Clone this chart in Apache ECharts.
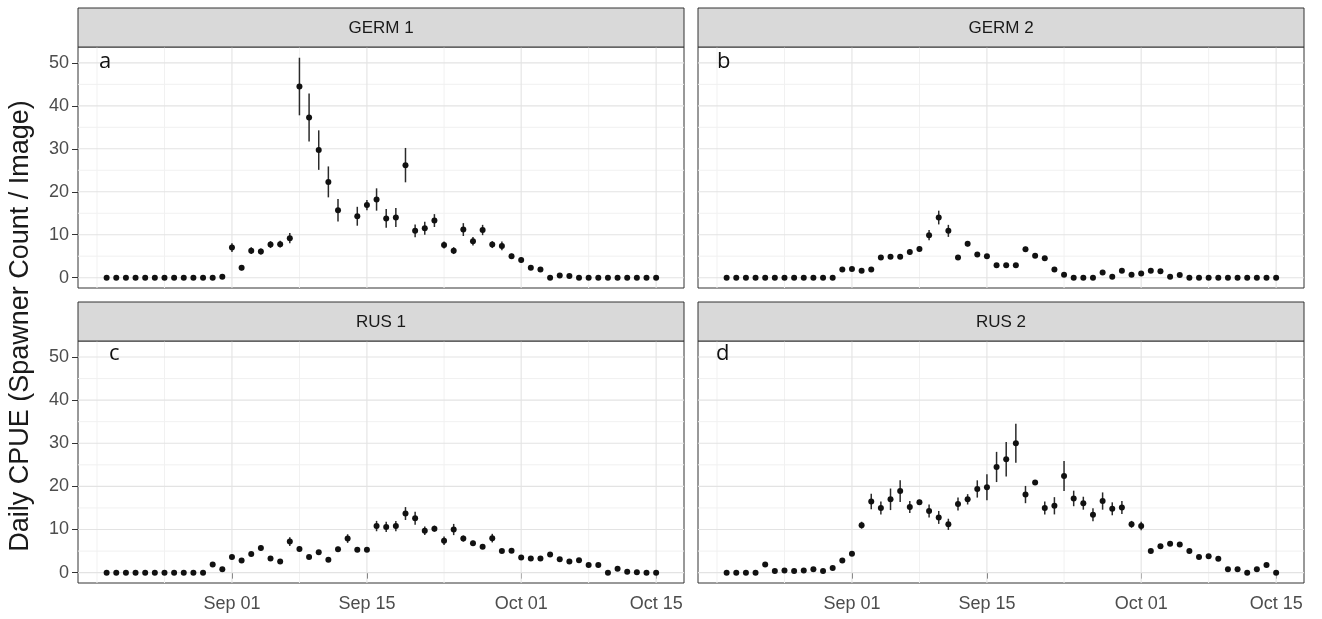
<!DOCTYPE html>
<html><head><meta charset="utf-8">
<script src="https://cdn.jsdelivr.net/npm/echarts@6/dist/echarts.min.js"></script>
<style>html,body{margin:0;padding:0;background:#fff}#c{width:1322px;height:619px}</style>
</head><body><div id="c"></div>
<script>
// ---- data ----
const firstDay = '2019-08-19';
const nDays = 58; // Aug 19 .. Oct 15
const panelNames = ['GERM 1', 'GERM 2', 'RUS 1', 'RUS 2'];
const panelLetters = ['a', 'b', 'c', 'd'];
const xTickLabels = ['2019-09-01', '2019-09-15', '2019-10-01', '2019-10-15'];
const yTickLabels = [0, 10, 20, 30, 40, 50];

const germ1 = [0,0,0,0,0,0,0,0,0,0,0,0,0.2,
  7.0,2.3,6.3,6.1,7.7,7.8,9.2,44.5,37.3,29.7,22.3,15.7,null,14.3,16.9,18.2,13.8,14.0,26.2,10.9,11.5,13.3,7.6,6.3,11.2,8.5,11.1,7.7,7.4,5.0,
  4.1,2.3,1.9,0,0.5,0.4,0,0,0,0,0,0,0,0,0];
const germ1Err = [0,0,0,0,0,0,0,0,0,0,0,0,0.2,
  1.0,0.6,0.8,0.7,0.8,0.8,1.2,6.7,5.6,4.6,3.6,2.6,null,2.2,1.2,2.6,2.2,2.2,4.0,1.5,1.5,1.5,0.8,0.8,1.5,1.0,1.2,0.8,1.0,0.6,
  0.6,0.4,0.4,0.1,0.3,0.2,0,0,0,0,0,0,0,0,0];

const germ2 = [0,0,0,0,0,0,0,0,0,0,0,0,1.9,
  2.0,1.6,1.9,4.7,4.9,4.9,6.0,6.7,9.9,14.0,10.9,4.7,7.9,5.4,5.0,2.9,2.9,2.9,6.6,5.1,4.5,1.9,0.7,0,0,0,1.2,0.2,1.6,0.7,
  1.0,1.6,1.5,0.2,0.6,0,0,0,0,0,0,0,0,0,0];
const germ2Err = [0,0,0,0,0,0,0,0,0,0,0,0,0.3,
  0.3,0.3,0.3,0.5,0.5,0.5,0.6,0.6,1.2,1.6,1.4,0.5,0.6,0.5,0.5,0.4,0.4,0.4,0.6,0.5,0.5,0.3,0.2,0,0,0,0.3,0.1,0.3,0.2,
  0.3,0.3,0.3,0.1,0.2,0,0,0,0,0,0,0,0,0,0];

const rus1 = [0,0,0,0,0,0,0,0,0,0,0,1.9,0.8,
  3.6,2.8,4.3,5.7,3.3,2.6,7.2,5.5,3.6,4.7,3.0,5.4,7.9,5.3,5.3,10.8,10.6,10.8,13.7,12.6,9.7,10.2,7.4,10.0,7.9,6.8,6.0,8.0,5.0,5.1,
  3.5,3.3,3.3,4.2,3.1,2.6,2.9,1.8,1.8,0,0.9,0.2,0.1,0,0];
const rus1Err = [0,0,0,0,0,0,0,0,0,0,0,0.4,0.3,
  0.5,0.4,0.5,0.6,0.4,0.4,1.0,0.6,0.4,0.5,0.4,0.6,1.0,0.5,0.5,1.2,1.2,1.2,1.5,1.5,1.0,0.7,1.0,1.3,0.7,0.6,0.5,1.0,0.4,0.4,
  0.4,0.3,0.3,0.4,0.3,0.3,0.3,0.2,0.2,0,0.2,0.1,0.1,0,0];

const rus2 = [0,0,0,0,1.9,0.4,0.5,0.4,0.5,0.8,0.4,1.1,2.8,
  4.4,11.0,16.5,15.0,17.0,18.9,15.2,16.3,14.3,12.8,11.2,15.9,17.0,19.4,19.8,24.5,26.3,30.0,18.1,20.9,15.0,15.5,22.4,17.2,16.1,13.4,16.6,14.8,15.1,11.2,
  10.8,5.0,6.1,6.7,6.5,5.0,3.6,3.8,3.2,0.8,0.8,0,0.8,1.8,0];
const rus2Err = [0,0,0,0,0.3,0.1,0.1,0.1,0.1,0.2,0.1,0.2,0.4,
  0.5,0.8,1.8,1.5,2.5,2.5,1.4,0.6,1.5,1.5,1.3,1.5,1.2,2.0,3.0,3.5,4.0,4.5,2.0,0.5,1.5,2.0,3.5,1.8,1.5,1.5,2.0,1.5,1.5,0.8,
  1.0,0.4,0.4,0.4,0.4,0.4,0.3,0.3,0.3,0.2,0.2,0,0.2,0.3,0];

const panelValues = [germ1, germ2, rus1, rus2];
const panelErrors = [germ1Err, germ2Err, rus1Err, rus2Err];

const majorX = ['2019-09-01', '2019-09-15', '2019-10-01', '2019-10-15'];
const minorX = ['2019-08-18', '2019-08-25', '2019-09-08', '2019-09-23', '2019-10-08'];
const majorY = [0, 10, 20, 30, 40, 50];
const minorY = [5, 15, 25, 35, 45];

// ---- helpers ----
const DAY = 86400000;
const ts = s => { const p = s.split('-').map(Number); return Date.UTC(p[0], p[1] - 1, p[2]); };
const t0 = ts(firstDay);
const dates = [];
for (let i = 0; i < nDays; i++) dates.push(t0 + i * DAY);
const sep1 = ts('2019-09-01');
const xMin = sep1 - 15.97 * DAY;
const xMax = sep1 + 46.89 * DAY;
const yMin = -2.4, yMax = 53.7;
const MON = ['Jan','Feb','Mar','Apr','May','Jun','Jul','Aug','Sep','Oct','Nov','Dec'];
const fmtDate = v => { const d = new Date(v); return MON[d.getUTCMonth()] + ' ' + String(d.getUTCDate()).padStart(2, '0'); };

// layout
const grids = [
  {left: 78, top: 47, width: 606, height: 241},
  {left: 698, top: 47, width: 606, height: 241},
  {left: 78, top: 341, width: 606, height: 242},
  {left: 698, top: 341, width: 606, height: 242}
];
const strips = [
  {x: 78, y: 8, w: 606, h: 39},
  {x: 698, y: 8, w: 606, h: 39},
  {x: 78, y: 302, w: 606, h: 39},
  {x: 698, y: 302, w: 606, h: 39}
];
const letterPos = [[99, 73], [717, 73], [109, 365], [716, 365]];

const FONT = '"Liberation Sans", Arial, sans-serif';
const TICK_FS = 18;
const option = {
  animation: false,
  backgroundColor: '#fff',
  grid: grids.map(g => Object.assign({show: true, borderColor: '#333', borderWidth: 1, backgroundColor: '#fff', containLabel: false}, g)),
  xAxis: grids.map((g, i) => {
    const bottom = i >= 2;
    return {
      type: 'value', gridIndex: i, min: xMin, max: xMax,
      axisLine: {show: false},
      splitLine: {show: false},
      axisTick: {show: bottom, length: 6, lineStyle: {color: '#333'}, customValues: xTickLabels.map(ts)},
      axisLabel: {show: bottom, margin: 12, color: '#4d4d4d', fontSize: TICK_FS, fontFamily: FONT,
        customValues: xTickLabels.map(ts), formatter: fmtDate}
    };
  }),
  yAxis: grids.map((g, i) => {
    const left = i % 2 === 0;
    return {
      type: 'value', gridIndex: i, min: yMin, max: yMax,
      axisLine: {show: false},
      splitLine: {show: false},
      axisTick: {show: left, length: 6, lineStyle: {color: '#333'}, customValues: yTickLabels},
      axisLabel: {show: left, margin: 9, color: '#4d4d4d', fontSize: TICK_FS, fontFamily: FONT, customValues: yTickLabels}
    };
  }),
  series: [],
  graphic: []
};

// grid line items: [orientation(0=vertical,1=horizontal), value, major?]
const gridItems = [];
minorX.forEach(d => gridItems.push([0, ts(d), 0]));
minorY.forEach(v => gridItems.push([1, v, 0]));
majorX.forEach(d => gridItems.push([0, ts(d), 1]));
majorY.forEach(v => gridItems.push([1, v, 1]));

panelValues.forEach((vals, i) => {
  const errs = panelErrors[i];
  const pts = [], bars = [];
  vals.forEach((v, k) => {
    if (v === null) return;
    pts.push([dates[k], v]);
    const e = errs[k] || 0;
    bars.push([dates[k], v - e, v + e]);
  });
  option.series.push({
    type: 'custom', xAxisIndex: i, yAxisIndex: i, data: gridItems, z: 1, silent: true,
    encode: {x: -1, y: -1},
    renderItem: (params, api) => {
      const cs = params.coordSys;
      const orient = api.value(0), val = api.value(1), major = api.value(2);
      const stroke = major ? '#e3e3e3' : '#f1f1f1';
      if (orient === 0) {
        const x = api.coord([val, 0])[0];
        return {type: 'line', shape: {x1: x, y1: cs.y, x2: x, y2: cs.y + cs.height}, style: {stroke, lineWidth: major ? 1.1 : 1}};
      }
      const y = api.coord([xMin, val])[1];
      return {type: 'line', shape: {x1: cs.x, y1: y, x2: cs.x + cs.width, y2: y}, style: {stroke, lineWidth: major ? 1.1 : 1}};
    }
  });
  option.series.push({
    type: 'custom', xAxisIndex: i, yAxisIndex: i, data: bars, z: 3, silent: true,
    renderItem: (params, api) => {
      const p1 = api.coord([api.value(0), api.value(1)]);
      const p2 = api.coord([api.value(0), api.value(2)]);
      return {type: 'line', shape: {x1: p1[0], y1: p1[1], x2: p2[0], y2: p2[1]},
        style: {stroke: '#2a2a2a', lineWidth: 1.5}};
    }
  });
  option.series.push({
    type: 'scatter', xAxisIndex: i, yAxisIndex: i, data: pts, z: 4,
    symbol: 'circle', symbolSize: 6, itemStyle: {color: '#111', opacity: 1}
  });
  const s = strips[i];
  option.graphic.push({type: 'rect', shape: {x: s.x, y: s.y, width: s.w, height: s.h},
    style: {fill: '#d9d9d9', stroke: '#333', lineWidth: 1}, z: 10});
  option.graphic.push({type: 'text', x: s.x + s.w / 2, y: s.y + s.h / 2 + 1,
    style: {text: panelNames[i], textAlign: 'center', textVerticalAlign: 'middle', fill: '#1a1a1a', font: '17px ' + FONT}, z: 11});
  option.graphic.push({type: 'text', x: letterPos[i][0], y: letterPos[i][1],
    style: {text: panelLetters[i], textAlign: 'left', textVerticalAlign: 'bottom', fill: '#111', font: '22px "Open Sans", "Noto Sans", sans-serif'}, z: 11});
});

option.graphic.push({type: 'text', x: 21, y: 326, rotation: Math.PI / 2,
  style: {text: 'Daily CPUE (Spawner Count / Image)', textAlign: 'center', textVerticalAlign: 'middle', fill: '#1a1a1a', font: '27px ' + FONT}, z: 11});

const chart = echarts.init(document.getElementById('c'), null, {renderer: 'canvas'});
chart.setOption(option);
</script>
</body></html>
